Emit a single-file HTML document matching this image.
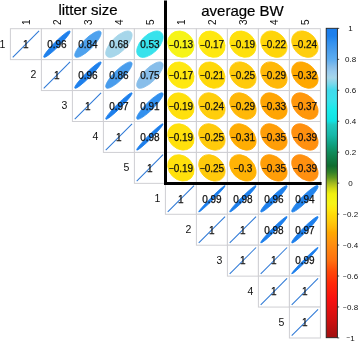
<!DOCTYPE html><html><head><meta charset="utf-8"><style>html,body{margin:0;padding:0;background:#fff}svg{display:block}</style></head><body><svg width="359" height="342" viewBox="0 0 359 342" font-family="'Liberation Sans', Arial, sans-serif"><rect width="359" height="342" fill="#fff"/><defs><linearGradient id="cb" x1="0" y1="0" x2="0" y2="1"><stop offset="0.00%" stop-color="#1c7eec"/><stop offset="2.50%" stop-color="#1e80ec"/><stop offset="4.50%" stop-color="#3290ee"/><stop offset="7.00%" stop-color="#489cec"/><stop offset="8.00%" stop-color="#4ea2ee"/><stop offset="10.00%" stop-color="#5cacf0"/><stop offset="12.50%" stop-color="#88beea"/><stop offset="14.00%" stop-color="#98caee"/><stop offset="16.00%" stop-color="#a6d6ea"/><stop offset="18.00%" stop-color="#78d8ec"/><stop offset="20.00%" stop-color="#40daec"/><stop offset="23.50%" stop-color="#38e2ec"/><stop offset="26.50%" stop-color="#18eaea"/><stop offset="30.00%" stop-color="#10e2e2"/><stop offset="31.15%" stop-color="#20c8c0"/><stop offset="34.50%" stop-color="#18b8a8"/><stop offset="37.50%" stop-color="#10a080"/><stop offset="40.00%" stop-color="#108c5c"/><stop offset="44.50%" stop-color="#106c30"/><stop offset="46.50%" stop-color="#308028"/><stop offset="48.25%" stop-color="#609820"/><stop offset="50.00%" stop-color="#a0b820"/><stop offset="51.75%" stop-color="#d0d818"/><stop offset="53.50%" stop-color="#f0f010"/><stop offset="56.50%" stop-color="#f6f418"/><stop offset="58.50%" stop-color="#ffe810"/><stop offset="60.50%" stop-color="#ffd808"/><stop offset="62.00%" stop-color="#ffce0c"/><stop offset="64.50%" stop-color="#ffb808"/><stop offset="66.00%" stop-color="#ffa800"/><stop offset="67.50%" stop-color="#ff9e08"/><stop offset="69.50%" stop-color="#ff9010"/><stop offset="75.00%" stop-color="#ff7010"/><stop offset="78.50%" stop-color="#ff4808"/><stop offset="82.50%" stop-color="#ff2808"/><stop offset="87.50%" stop-color="#f81010"/><stop offset="94.00%" stop-color="#d01010"/><stop offset="100.00%" stop-color="#a01010"/></linearGradient></defs><rect x="10.4" y="28.7" width="31.0" height="30.93" fill="#fff" stroke="#cfcfd3" stroke-width="1"/><rect x="41.4" y="28.7" width="31.0" height="30.93" fill="#fff" stroke="#cfcfd3" stroke-width="1"/><rect x="72.4" y="28.7" width="31.0" height="30.93" fill="#fff" stroke="#cfcfd3" stroke-width="1"/><rect x="103.4" y="28.7" width="31.0" height="30.93" fill="#fff" stroke="#cfcfd3" stroke-width="1"/><rect x="134.4" y="28.7" width="31.0" height="30.93" fill="#fff" stroke="#cfcfd3" stroke-width="1"/><rect x="165.4" y="28.7" width="31.0" height="30.93" fill="#fff" stroke="#cfcfd3" stroke-width="1"/><rect x="196.4" y="28.7" width="31.0" height="30.93" fill="#fff" stroke="#cfcfd3" stroke-width="1"/><rect x="227.4" y="28.7" width="31.0" height="30.93" fill="#fff" stroke="#cfcfd3" stroke-width="1"/><rect x="258.4" y="28.7" width="31.0" height="30.93" fill="#fff" stroke="#cfcfd3" stroke-width="1"/><rect x="289.4" y="28.7" width="31.0" height="30.93" fill="#fff" stroke="#cfcfd3" stroke-width="1"/><rect x="41.4" y="59.629999999999995" width="31.0" height="30.93" fill="#fff" stroke="#cfcfd3" stroke-width="1"/><rect x="72.4" y="59.629999999999995" width="31.0" height="30.93" fill="#fff" stroke="#cfcfd3" stroke-width="1"/><rect x="103.4" y="59.629999999999995" width="31.0" height="30.93" fill="#fff" stroke="#cfcfd3" stroke-width="1"/><rect x="134.4" y="59.629999999999995" width="31.0" height="30.93" fill="#fff" stroke="#cfcfd3" stroke-width="1"/><rect x="165.4" y="59.629999999999995" width="31.0" height="30.93" fill="#fff" stroke="#cfcfd3" stroke-width="1"/><rect x="196.4" y="59.629999999999995" width="31.0" height="30.93" fill="#fff" stroke="#cfcfd3" stroke-width="1"/><rect x="227.4" y="59.629999999999995" width="31.0" height="30.93" fill="#fff" stroke="#cfcfd3" stroke-width="1"/><rect x="258.4" y="59.629999999999995" width="31.0" height="30.93" fill="#fff" stroke="#cfcfd3" stroke-width="1"/><rect x="289.4" y="59.629999999999995" width="31.0" height="30.93" fill="#fff" stroke="#cfcfd3" stroke-width="1"/><rect x="72.4" y="90.56" width="31.0" height="30.93" fill="#fff" stroke="#cfcfd3" stroke-width="1"/><rect x="103.4" y="90.56" width="31.0" height="30.93" fill="#fff" stroke="#cfcfd3" stroke-width="1"/><rect x="134.4" y="90.56" width="31.0" height="30.93" fill="#fff" stroke="#cfcfd3" stroke-width="1"/><rect x="165.4" y="90.56" width="31.0" height="30.93" fill="#fff" stroke="#cfcfd3" stroke-width="1"/><rect x="196.4" y="90.56" width="31.0" height="30.93" fill="#fff" stroke="#cfcfd3" stroke-width="1"/><rect x="227.4" y="90.56" width="31.0" height="30.93" fill="#fff" stroke="#cfcfd3" stroke-width="1"/><rect x="258.4" y="90.56" width="31.0" height="30.93" fill="#fff" stroke="#cfcfd3" stroke-width="1"/><rect x="289.4" y="90.56" width="31.0" height="30.93" fill="#fff" stroke="#cfcfd3" stroke-width="1"/><rect x="103.4" y="121.49" width="31.0" height="30.93" fill="#fff" stroke="#cfcfd3" stroke-width="1"/><rect x="134.4" y="121.49" width="31.0" height="30.93" fill="#fff" stroke="#cfcfd3" stroke-width="1"/><rect x="165.4" y="121.49" width="31.0" height="30.93" fill="#fff" stroke="#cfcfd3" stroke-width="1"/><rect x="196.4" y="121.49" width="31.0" height="30.93" fill="#fff" stroke="#cfcfd3" stroke-width="1"/><rect x="227.4" y="121.49" width="31.0" height="30.93" fill="#fff" stroke="#cfcfd3" stroke-width="1"/><rect x="258.4" y="121.49" width="31.0" height="30.93" fill="#fff" stroke="#cfcfd3" stroke-width="1"/><rect x="289.4" y="121.49" width="31.0" height="30.93" fill="#fff" stroke="#cfcfd3" stroke-width="1"/><rect x="134.4" y="152.42" width="31.0" height="30.93" fill="#fff" stroke="#cfcfd3" stroke-width="1"/><rect x="165.4" y="152.42" width="31.0" height="30.93" fill="#fff" stroke="#cfcfd3" stroke-width="1"/><rect x="196.4" y="152.42" width="31.0" height="30.93" fill="#fff" stroke="#cfcfd3" stroke-width="1"/><rect x="227.4" y="152.42" width="31.0" height="30.93" fill="#fff" stroke="#cfcfd3" stroke-width="1"/><rect x="258.4" y="152.42" width="31.0" height="30.93" fill="#fff" stroke="#cfcfd3" stroke-width="1"/><rect x="289.4" y="152.42" width="31.0" height="30.93" fill="#fff" stroke="#cfcfd3" stroke-width="1"/><rect x="165.4" y="183.35" width="31.0" height="30.93" fill="#fff" stroke="#cfcfd3" stroke-width="1"/><rect x="196.4" y="183.35" width="31.0" height="30.93" fill="#fff" stroke="#cfcfd3" stroke-width="1"/><rect x="227.4" y="183.35" width="31.0" height="30.93" fill="#fff" stroke="#cfcfd3" stroke-width="1"/><rect x="258.4" y="183.35" width="31.0" height="30.93" fill="#fff" stroke="#cfcfd3" stroke-width="1"/><rect x="289.4" y="183.35" width="31.0" height="30.93" fill="#fff" stroke="#cfcfd3" stroke-width="1"/><rect x="196.4" y="214.27999999999997" width="31.0" height="30.93" fill="#fff" stroke="#cfcfd3" stroke-width="1"/><rect x="227.4" y="214.27999999999997" width="31.0" height="30.93" fill="#fff" stroke="#cfcfd3" stroke-width="1"/><rect x="258.4" y="214.27999999999997" width="31.0" height="30.93" fill="#fff" stroke="#cfcfd3" stroke-width="1"/><rect x="289.4" y="214.27999999999997" width="31.0" height="30.93" fill="#fff" stroke="#cfcfd3" stroke-width="1"/><rect x="227.4" y="245.20999999999998" width="31.0" height="30.93" fill="#fff" stroke="#cfcfd3" stroke-width="1"/><rect x="258.4" y="245.20999999999998" width="31.0" height="30.93" fill="#fff" stroke="#cfcfd3" stroke-width="1"/><rect x="289.4" y="245.20999999999998" width="31.0" height="30.93" fill="#fff" stroke="#cfcfd3" stroke-width="1"/><rect x="258.4" y="276.14" width="31.0" height="30.93" fill="#fff" stroke="#cfcfd3" stroke-width="1"/><rect x="289.4" y="276.14" width="31.0" height="30.93" fill="#fff" stroke="#cfcfd3" stroke-width="1"/><rect x="289.4" y="307.07" width="31.0" height="30.93" fill="#fff" stroke="#cfcfd3" stroke-width="1"/><line x1="12.72" y1="57.34" x2="39.07" y2="30.99" stroke="#2e79d6" stroke-width="1.05"/><ellipse cx="56.9" cy="44.165" rx="18.44" ry="2.64" fill="#1e80ec" stroke="#1e80ec" stroke-width="0.8" transform="rotate(-45 56.9 44.165)"/><ellipse cx="87.9" cy="44.165" rx="17.87" ry="5.27" fill="#4ea2ee" stroke="#4ea2ee" stroke-width="0.8" transform="rotate(-45 87.9 44.165)"/><ellipse cx="118.9" cy="44.165" rx="17.08" ry="7.45" fill="#a6d6ea" stroke="#a6d6ea" stroke-width="0.8" transform="rotate(-45 118.9 44.165)"/><ellipse cx="149.9" cy="44.165" rx="16.30" ry="9.03" fill="#38e2ec" stroke="#38e2ec" stroke-width="0.8" transform="rotate(-45 149.9 44.165)"/><ellipse cx="180.9" cy="44.165" rx="12.29" ry="14.01" fill="#f6f418" stroke="#f6f418" stroke-width="0.8" transform="rotate(-45 180.9 44.165)"/><ellipse cx="211.9" cy="44.165" rx="12.00" ry="14.25" fill="#ffe810" stroke="#ffe810" stroke-width="0.8" transform="rotate(-45 211.9 44.165)"/><ellipse cx="242.9" cy="44.165" rx="11.86" ry="14.37" fill="#ffe00c" stroke="#ffe00c" stroke-width="0.8" transform="rotate(-45 242.9 44.165)"/><ellipse cx="273.9" cy="44.165" rx="11.64" ry="14.55" fill="#ffd509" stroke="#ffd509" stroke-width="0.8" transform="rotate(-45 273.9 44.165)"/><ellipse cx="304.9" cy="44.165" rx="11.49" ry="14.67" fill="#ffce0c" stroke="#ffce0c" stroke-width="0.8" transform="rotate(-45 304.9 44.165)"/><line x1="43.73" y1="88.27" x2="70.08" y2="61.92" stroke="#2e79d6" stroke-width="1.05"/><ellipse cx="87.9" cy="75.095" rx="18.44" ry="2.64" fill="#1e80ec" stroke="#1e80ec" stroke-width="0.8" transform="rotate(-45 87.9 75.095)"/><ellipse cx="118.9" cy="75.095" rx="17.97" ry="4.93" fill="#489cec" stroke="#489cec" stroke-width="0.8" transform="rotate(-45 118.9 75.095)"/><ellipse cx="149.9" cy="75.095" rx="17.43" ry="6.59" fill="#88beea" stroke="#88beea" stroke-width="0.8" transform="rotate(-45 149.9 75.095)"/><ellipse cx="180.9" cy="75.095" rx="12.00" ry="14.25" fill="#ffe810" stroke="#ffe810" stroke-width="0.8" transform="rotate(-45 180.9 75.095)"/><ellipse cx="211.9" cy="75.095" rx="11.71" ry="14.49" fill="#ffd808" stroke="#ffd808" stroke-width="0.8" transform="rotate(-45 211.9 75.095)"/><ellipse cx="242.9" cy="75.095" rx="11.41" ry="14.73" fill="#ffca0b" stroke="#ffca0b" stroke-width="0.8" transform="rotate(-45 242.9 75.095)"/><ellipse cx="273.9" cy="75.095" rx="11.10" ry="14.96" fill="#ffb808" stroke="#ffb808" stroke-width="0.8" transform="rotate(-45 273.9 75.095)"/><ellipse cx="304.9" cy="75.095" rx="10.86" ry="15.14" fill="#ffa800" stroke="#ffa800" stroke-width="0.8" transform="rotate(-45 304.9 75.095)"/><line x1="74.73" y1="119.20" x2="101.08" y2="92.85" stroke="#2e79d6" stroke-width="1.05"/><ellipse cx="118.9" cy="106.025" rx="18.49" ry="2.28" fill="#1d7fec" stroke="#1d7fec" stroke-width="0.8" transform="rotate(-45 118.9 106.025)"/><ellipse cx="149.9" cy="106.025" rx="18.21" ry="3.95" fill="#3290ee" stroke="#3290ee" stroke-width="0.8" transform="rotate(-45 149.9 106.025)"/><ellipse cx="180.9" cy="106.025" rx="11.86" ry="14.37" fill="#ffe00c" stroke="#ffe00c" stroke-width="0.8" transform="rotate(-45 180.9 106.025)"/><ellipse cx="211.9" cy="106.025" rx="11.49" ry="14.67" fill="#ffce0c" stroke="#ffce0c" stroke-width="0.8" transform="rotate(-45 211.9 106.025)"/><ellipse cx="242.9" cy="106.025" rx="11.10" ry="14.96" fill="#ffb808" stroke="#ffb808" stroke-width="0.8" transform="rotate(-45 242.9 106.025)"/><ellipse cx="273.9" cy="106.025" rx="10.78" ry="15.19" fill="#ffa503" stroke="#ffa503" stroke-width="0.8" transform="rotate(-45 273.9 106.025)"/><ellipse cx="304.9" cy="106.025" rx="10.46" ry="15.42" fill="#ff970c" stroke="#ff970c" stroke-width="0.8" transform="rotate(-45 304.9 106.025)"/><line x1="105.73" y1="150.13" x2="132.08" y2="123.78" stroke="#2e79d6" stroke-width="1.05"/><ellipse cx="149.9" cy="136.95499999999998" rx="18.54" ry="1.86" fill="#1d7fec" stroke="#1d7fec" stroke-width="0.8" transform="rotate(-45 149.9 136.95499999999998)"/><ellipse cx="180.9" cy="136.95499999999998" rx="11.86" ry="14.37" fill="#ffe00c" stroke="#ffe00c" stroke-width="0.8" transform="rotate(-45 180.9 136.95499999999998)"/><ellipse cx="211.9" cy="136.95499999999998" rx="11.41" ry="14.73" fill="#ffca0b" stroke="#ffca0b" stroke-width="0.8" transform="rotate(-45 211.9 136.95499999999998)"/><ellipse cx="242.9" cy="136.95499999999998" rx="10.94" ry="15.08" fill="#ffad03" stroke="#ffad03" stroke-width="0.8" transform="rotate(-45 242.9 136.95499999999998)"/><ellipse cx="273.9" cy="136.95499999999998" rx="10.62" ry="15.31" fill="#ff9e08" stroke="#ff9e08" stroke-width="0.8" transform="rotate(-45 273.9 136.95499999999998)"/><ellipse cx="304.9" cy="136.95499999999998" rx="10.29" ry="15.53" fill="#ff9010" stroke="#ff9010" stroke-width="0.8" transform="rotate(-45 304.9 136.95499999999998)"/><line x1="136.72" y1="181.06" x2="163.08" y2="154.71" stroke="#2e79d6" stroke-width="1.05"/><ellipse cx="180.9" cy="167.885" rx="11.86" ry="14.37" fill="#ffe00c" stroke="#ffe00c" stroke-width="0.8" transform="rotate(-45 180.9 167.885)"/><ellipse cx="211.9" cy="167.885" rx="11.41" ry="14.73" fill="#ffca0b" stroke="#ffca0b" stroke-width="0.8" transform="rotate(-45 211.9 167.885)"/><ellipse cx="242.9" cy="167.885" rx="11.02" ry="15.02" fill="#ffb305" stroke="#ffb305" stroke-width="0.8" transform="rotate(-45 242.9 167.885)"/><ellipse cx="273.9" cy="167.885" rx="10.62" ry="15.31" fill="#ff9e08" stroke="#ff9e08" stroke-width="0.8" transform="rotate(-45 273.9 167.885)"/><ellipse cx="304.9" cy="167.885" rx="10.29" ry="15.53" fill="#ff9010" stroke="#ff9010" stroke-width="0.8" transform="rotate(-45 304.9 167.885)"/><line x1="167.72" y1="211.99" x2="194.08" y2="185.64" stroke="#2e79d6" stroke-width="1.05"/><ellipse cx="211.9" cy="198.815" rx="18.59" ry="1.32" fill="#1c7eec" stroke="#1c7eec" stroke-width="0.8" transform="rotate(-45 211.9 198.815)"/><ellipse cx="242.9" cy="198.815" rx="18.54" ry="1.86" fill="#1d7fec" stroke="#1d7fec" stroke-width="0.8" transform="rotate(-45 242.9 198.815)"/><ellipse cx="273.9" cy="198.815" rx="18.44" ry="2.64" fill="#1e80ec" stroke="#1e80ec" stroke-width="0.8" transform="rotate(-45 273.9 198.815)"/><ellipse cx="304.9" cy="198.815" rx="18.35" ry="3.23" fill="#2384ec" stroke="#2384ec" stroke-width="0.8" transform="rotate(-45 304.9 198.815)"/><line x1="198.72" y1="242.92" x2="225.08" y2="216.57" stroke="#2e79d6" stroke-width="1.05"/><line x1="229.72" y1="242.92" x2="256.07" y2="216.57" stroke="#2e79d6" stroke-width="1.05"/><ellipse cx="273.9" cy="229.74499999999998" rx="18.54" ry="1.86" fill="#1d7fec" stroke="#1d7fec" stroke-width="0.8" transform="rotate(-45 273.9 229.74499999999998)"/><ellipse cx="304.9" cy="229.74499999999998" rx="18.49" ry="2.28" fill="#1d7fec" stroke="#1d7fec" stroke-width="0.8" transform="rotate(-45 304.9 229.74499999999998)"/><line x1="229.72" y1="273.85" x2="256.07" y2="247.50" stroke="#2e79d6" stroke-width="1.05"/><line x1="260.72" y1="273.85" x2="287.07" y2="247.50" stroke="#2e79d6" stroke-width="1.05"/><ellipse cx="304.9" cy="260.67499999999995" rx="18.59" ry="1.32" fill="#1c7eec" stroke="#1c7eec" stroke-width="0.8" transform="rotate(-45 304.9 260.67499999999995)"/><line x1="260.72" y1="304.78" x2="287.07" y2="278.43" stroke="#2e79d6" stroke-width="1.05"/><line x1="291.72" y1="304.78" x2="318.07" y2="278.43" stroke="#2e79d6" stroke-width="1.05"/><line x1="291.72" y1="335.71" x2="318.07" y2="309.36" stroke="#2e79d6" stroke-width="1.05"/><text x="25.9" y="47.96" font-size="10" text-anchor="middle" fill="#111" stroke="#111" stroke-width="0.25">1</text><text x="56.9" y="47.96" font-size="10" text-anchor="middle" fill="#111" stroke="#111" stroke-width="0.25">0.96</text><text x="87.9" y="47.96" font-size="10" text-anchor="middle" fill="#111" stroke="#111" stroke-width="0.25">0.84</text><text x="118.9" y="47.96" font-size="10" text-anchor="middle" fill="#111" stroke="#111" stroke-width="0.25">0.68</text><text x="149.9" y="47.96" font-size="10" text-anchor="middle" fill="#111" stroke="#111" stroke-width="0.25">0.53</text><text x="180.9" y="47.96" font-size="10" text-anchor="middle" fill="#111" stroke="#111" stroke-width="0.25"><tspan font-size="8.6" dy="-0.45">−</tspan><tspan dy="0.45">0.13</tspan></text><text x="211.9" y="47.96" font-size="10" text-anchor="middle" fill="#111" stroke="#111" stroke-width="0.25"><tspan font-size="8.6" dy="-0.45">−</tspan><tspan dy="0.45">0.17</tspan></text><text x="242.9" y="47.96" font-size="10" text-anchor="middle" fill="#111" stroke="#111" stroke-width="0.25"><tspan font-size="8.6" dy="-0.45">−</tspan><tspan dy="0.45">0.19</tspan></text><text x="273.9" y="47.96" font-size="10" text-anchor="middle" fill="#111" stroke="#111" stroke-width="0.25"><tspan font-size="8.6" dy="-0.45">−</tspan><tspan dy="0.45">0.22</tspan></text><text x="304.9" y="47.96" font-size="10" text-anchor="middle" fill="#111" stroke="#111" stroke-width="0.25"><tspan font-size="8.6" dy="-0.45">−</tspan><tspan dy="0.45">0.24</tspan></text><text x="56.9" y="78.89" font-size="10" text-anchor="middle" fill="#111" stroke="#111" stroke-width="0.25">1</text><text x="87.9" y="78.89" font-size="10" text-anchor="middle" fill="#111" stroke="#111" stroke-width="0.25">0.96</text><text x="118.9" y="78.89" font-size="10" text-anchor="middle" fill="#111" stroke="#111" stroke-width="0.25">0.86</text><text x="149.9" y="78.89" font-size="10" text-anchor="middle" fill="#111" stroke="#111" stroke-width="0.25">0.75</text><text x="180.9" y="78.89" font-size="10" text-anchor="middle" fill="#111" stroke="#111" stroke-width="0.25"><tspan font-size="8.6" dy="-0.45">−</tspan><tspan dy="0.45">0.17</tspan></text><text x="211.9" y="78.89" font-size="10" text-anchor="middle" fill="#111" stroke="#111" stroke-width="0.25"><tspan font-size="8.6" dy="-0.45">−</tspan><tspan dy="0.45">0.21</tspan></text><text x="242.9" y="78.89" font-size="10" text-anchor="middle" fill="#111" stroke="#111" stroke-width="0.25"><tspan font-size="8.6" dy="-0.45">−</tspan><tspan dy="0.45">0.25</tspan></text><text x="273.9" y="78.89" font-size="10" text-anchor="middle" fill="#111" stroke="#111" stroke-width="0.25"><tspan font-size="8.6" dy="-0.45">−</tspan><tspan dy="0.45">0.29</tspan></text><text x="304.9" y="78.89" font-size="10" text-anchor="middle" fill="#111" stroke="#111" stroke-width="0.25"><tspan font-size="8.6" dy="-0.45">−</tspan><tspan dy="0.45">0.32</tspan></text><text x="87.9" y="109.83" font-size="10" text-anchor="middle" fill="#111" stroke="#111" stroke-width="0.25">1</text><text x="118.9" y="109.83" font-size="10" text-anchor="middle" fill="#111" stroke="#111" stroke-width="0.25">0.97</text><text x="149.9" y="109.83" font-size="10" text-anchor="middle" fill="#111" stroke="#111" stroke-width="0.25">0.91</text><text x="180.9" y="109.83" font-size="10" text-anchor="middle" fill="#111" stroke="#111" stroke-width="0.25"><tspan font-size="8.6" dy="-0.45">−</tspan><tspan dy="0.45">0.19</tspan></text><text x="211.9" y="109.83" font-size="10" text-anchor="middle" fill="#111" stroke="#111" stroke-width="0.25"><tspan font-size="8.6" dy="-0.45">−</tspan><tspan dy="0.45">0.24</tspan></text><text x="242.9" y="109.83" font-size="10" text-anchor="middle" fill="#111" stroke="#111" stroke-width="0.25"><tspan font-size="8.6" dy="-0.45">−</tspan><tspan dy="0.45">0.29</tspan></text><text x="273.9" y="109.83" font-size="10" text-anchor="middle" fill="#111" stroke="#111" stroke-width="0.25"><tspan font-size="8.6" dy="-0.45">−</tspan><tspan dy="0.45">0.33</tspan></text><text x="304.9" y="109.83" font-size="10" text-anchor="middle" fill="#111" stroke="#111" stroke-width="0.25"><tspan font-size="8.6" dy="-0.45">−</tspan><tspan dy="0.45">0.37</tspan></text><text x="118.9" y="140.75" font-size="10" text-anchor="middle" fill="#111" stroke="#111" stroke-width="0.25">1</text><text x="149.9" y="140.75" font-size="10" text-anchor="middle" fill="#111" stroke="#111" stroke-width="0.25">0.98</text><text x="180.9" y="140.75" font-size="10" text-anchor="middle" fill="#111" stroke="#111" stroke-width="0.25"><tspan font-size="8.6" dy="-0.45">−</tspan><tspan dy="0.45">0.19</tspan></text><text x="211.9" y="140.75" font-size="10" text-anchor="middle" fill="#111" stroke="#111" stroke-width="0.25"><tspan font-size="8.6" dy="-0.45">−</tspan><tspan dy="0.45">0.25</tspan></text><text x="242.9" y="140.75" font-size="10" text-anchor="middle" fill="#111" stroke="#111" stroke-width="0.25"><tspan font-size="8.6" dy="-0.45">−</tspan><tspan dy="0.45">0.31</tspan></text><text x="273.9" y="140.75" font-size="10" text-anchor="middle" fill="#111" stroke="#111" stroke-width="0.25"><tspan font-size="8.6" dy="-0.45">−</tspan><tspan dy="0.45">0.35</tspan></text><text x="304.9" y="140.75" font-size="10" text-anchor="middle" fill="#111" stroke="#111" stroke-width="0.25"><tspan font-size="8.6" dy="-0.45">−</tspan><tspan dy="0.45">0.39</tspan></text><text x="149.9" y="171.69" font-size="10" text-anchor="middle" fill="#111" stroke="#111" stroke-width="0.25">1</text><text x="180.9" y="171.69" font-size="10" text-anchor="middle" fill="#111" stroke="#111" stroke-width="0.25"><tspan font-size="8.6" dy="-0.45">−</tspan><tspan dy="0.45">0.19</tspan></text><text x="211.9" y="171.69" font-size="10" text-anchor="middle" fill="#111" stroke="#111" stroke-width="0.25"><tspan font-size="8.6" dy="-0.45">−</tspan><tspan dy="0.45">0.25</tspan></text><text x="242.9" y="171.69" font-size="10" text-anchor="middle" fill="#111" stroke="#111" stroke-width="0.25"><tspan font-size="8.6" dy="-0.45">−</tspan><tspan dy="0.45">0.3</tspan></text><text x="273.9" y="171.69" font-size="10" text-anchor="middle" fill="#111" stroke="#111" stroke-width="0.25"><tspan font-size="8.6" dy="-0.45">−</tspan><tspan dy="0.45">0.35</tspan></text><text x="304.9" y="171.69" font-size="10" text-anchor="middle" fill="#111" stroke="#111" stroke-width="0.25"><tspan font-size="8.6" dy="-0.45">−</tspan><tspan dy="0.45">0.39</tspan></text><text x="180.9" y="202.62" font-size="10" text-anchor="middle" fill="#111" stroke="#111" stroke-width="0.25">1</text><text x="211.9" y="202.62" font-size="10" text-anchor="middle" fill="#111" stroke="#111" stroke-width="0.25">0.99</text><text x="242.9" y="202.62" font-size="10" text-anchor="middle" fill="#111" stroke="#111" stroke-width="0.25">0.98</text><text x="273.9" y="202.62" font-size="10" text-anchor="middle" fill="#111" stroke="#111" stroke-width="0.25">0.96</text><text x="304.9" y="202.62" font-size="10" text-anchor="middle" fill="#111" stroke="#111" stroke-width="0.25">0.94</text><text x="211.9" y="233.54" font-size="10" text-anchor="middle" fill="#111" stroke="#111" stroke-width="0.25">1</text><text x="242.9" y="233.54" font-size="10" text-anchor="middle" fill="#111" stroke="#111" stroke-width="0.25">1</text><text x="273.9" y="233.54" font-size="10" text-anchor="middle" fill="#111" stroke="#111" stroke-width="0.25">0.98</text><text x="304.9" y="233.54" font-size="10" text-anchor="middle" fill="#111" stroke="#111" stroke-width="0.25">0.97</text><text x="242.9" y="264.47" font-size="10" text-anchor="middle" fill="#111" stroke="#111" stroke-width="0.25">1</text><text x="273.9" y="264.47" font-size="10" text-anchor="middle" fill="#111" stroke="#111" stroke-width="0.25">1</text><text x="304.9" y="264.47" font-size="10" text-anchor="middle" fill="#111" stroke="#111" stroke-width="0.25">0.99</text><text x="273.9" y="295.40" font-size="10" text-anchor="middle" fill="#111" stroke="#111" stroke-width="0.25">1</text><text x="304.9" y="295.40" font-size="10" text-anchor="middle" fill="#111" stroke="#111" stroke-width="0.25">1</text><text x="304.9" y="326.33" font-size="10" text-anchor="middle" fill="#111" stroke="#111" stroke-width="0.25">1</text><text x="5.4" y="47.515" font-size="10.5" text-anchor="end" fill="#111">1</text><text x="36.4" y="78.445" font-size="10.5" text-anchor="end" fill="#111">2</text><text x="67.4" y="109.375" font-size="10.5" text-anchor="end" fill="#111">3</text><text x="98.4" y="140.30499999999998" font-size="10.5" text-anchor="end" fill="#111">4</text><text x="129.4" y="171.23499999999999" font-size="10.5" text-anchor="end" fill="#111">5</text><text x="160.4" y="202.165" font-size="10.5" text-anchor="end" fill="#111">1</text><text x="191.4" y="233.09499999999997" font-size="10.5" text-anchor="end" fill="#111">2</text><text x="222.4" y="264.025" font-size="10.5" text-anchor="end" fill="#111">3</text><text x="253.39999999999998" y="294.955" font-size="10.5" text-anchor="end" fill="#111">4</text><text x="284.4" y="325.885" font-size="10.5" text-anchor="end" fill="#111">5</text><text transform="translate(29.5 22.2) rotate(-90)" font-size="10" text-anchor="middle" fill="#111">1</text><text transform="translate(60.5 22.2) rotate(-90)" font-size="10" text-anchor="middle" fill="#111">2</text><text transform="translate(91.5 22.2) rotate(-90)" font-size="10" text-anchor="middle" fill="#111">3</text><text transform="translate(122.5 22.2) rotate(-90)" font-size="10" text-anchor="middle" fill="#111">4</text><text transform="translate(153.5 22.2) rotate(-90)" font-size="10" text-anchor="middle" fill="#111">5</text><text transform="translate(184.5 22.2) rotate(-90)" font-size="10" text-anchor="middle" fill="#111">1</text><text transform="translate(215.5 22.2) rotate(-90)" font-size="10" text-anchor="middle" fill="#111">2</text><text transform="translate(246.5 22.2) rotate(-90)" font-size="10" text-anchor="middle" fill="#111">3</text><text transform="translate(277.5 22.2) rotate(-90)" font-size="10" text-anchor="middle" fill="#111">4</text><text transform="translate(308.5 22.2) rotate(-90)" font-size="10" text-anchor="middle" fill="#111">5</text><text x="88" y="15" font-size="15" text-anchor="middle" fill="#000" stroke="#000" stroke-width="0.2">litter size</text><text x="242.5" y="16.3" font-size="15" text-anchor="middle" fill="#000" stroke="#000" stroke-width="0.2">average BW</text><path d="M165.5 0.5 V183.4 H321.6" fill="none" stroke="#000" stroke-width="3" stroke-linejoin="miter"/><rect x="326.2" y="28.3" width="11.2" height="309.4" fill="url(#cb)" stroke="#222" stroke-width="0.9"/><line x1="337.4" y1="28.4" x2="339.2" y2="28.4" stroke="#222" stroke-width="0.8"/><text x="350.6" y="31.30" font-size="8" text-anchor="middle" fill="#111">1</text><line x1="337.4" y1="59.349999999999994" x2="339.2" y2="59.349999999999994" stroke="#222" stroke-width="0.8"/><text x="350.6" y="62.25" font-size="8" text-anchor="middle" fill="#111">0.8</text><line x1="337.4" y1="90.3" x2="339.2" y2="90.3" stroke="#222" stroke-width="0.8"/><text x="350.6" y="93.20" font-size="8" text-anchor="middle" fill="#111">0.6</text><line x1="337.4" y1="121.25" x2="339.2" y2="121.25" stroke="#222" stroke-width="0.8"/><text x="350.6" y="124.15" font-size="8" text-anchor="middle" fill="#111">0.4</text><line x1="337.4" y1="152.2" x2="339.2" y2="152.2" stroke="#222" stroke-width="0.8"/><text x="350.6" y="155.10" font-size="8" text-anchor="middle" fill="#111">0.2</text><line x1="337.4" y1="183.15" x2="339.2" y2="183.15" stroke="#222" stroke-width="0.8"/><text x="350.6" y="186.05" font-size="8" text-anchor="middle" fill="#111">0</text><line x1="337.4" y1="214.1" x2="339.2" y2="214.1" stroke="#222" stroke-width="0.8"/><text x="350.6" y="217.00" font-size="8" text-anchor="middle" fill="#111"><tspan font-size="6.6" dy="-0.35">−</tspan><tspan dy="0.35">0.2</tspan></text><line x1="337.4" y1="245.05" x2="339.2" y2="245.05" stroke="#222" stroke-width="0.8"/><text x="350.6" y="247.95" font-size="8" text-anchor="middle" fill="#111"><tspan font-size="6.6" dy="-0.35">−</tspan><tspan dy="0.35">0.4</tspan></text><line x1="337.4" y1="276.0" x2="339.2" y2="276.0" stroke="#222" stroke-width="0.8"/><text x="350.6" y="278.90" font-size="8" text-anchor="middle" fill="#111"><tspan font-size="6.6" dy="-0.35">−</tspan><tspan dy="0.35">0.6</tspan></text><line x1="337.4" y1="306.95" x2="339.2" y2="306.95" stroke="#222" stroke-width="0.8"/><text x="350.6" y="309.85" font-size="8" text-anchor="middle" fill="#111"><tspan font-size="6.6" dy="-0.35">−</tspan><tspan dy="0.35">0.8</tspan></text><line x1="337.4" y1="337.9" x2="339.2" y2="337.9" stroke="#222" stroke-width="0.8"/><text x="350.6" y="340.80" font-size="8" text-anchor="middle" fill="#111"><tspan font-size="6.6" dy="-0.35">−</tspan><tspan dy="0.35">1</tspan></text></svg></body></html>
